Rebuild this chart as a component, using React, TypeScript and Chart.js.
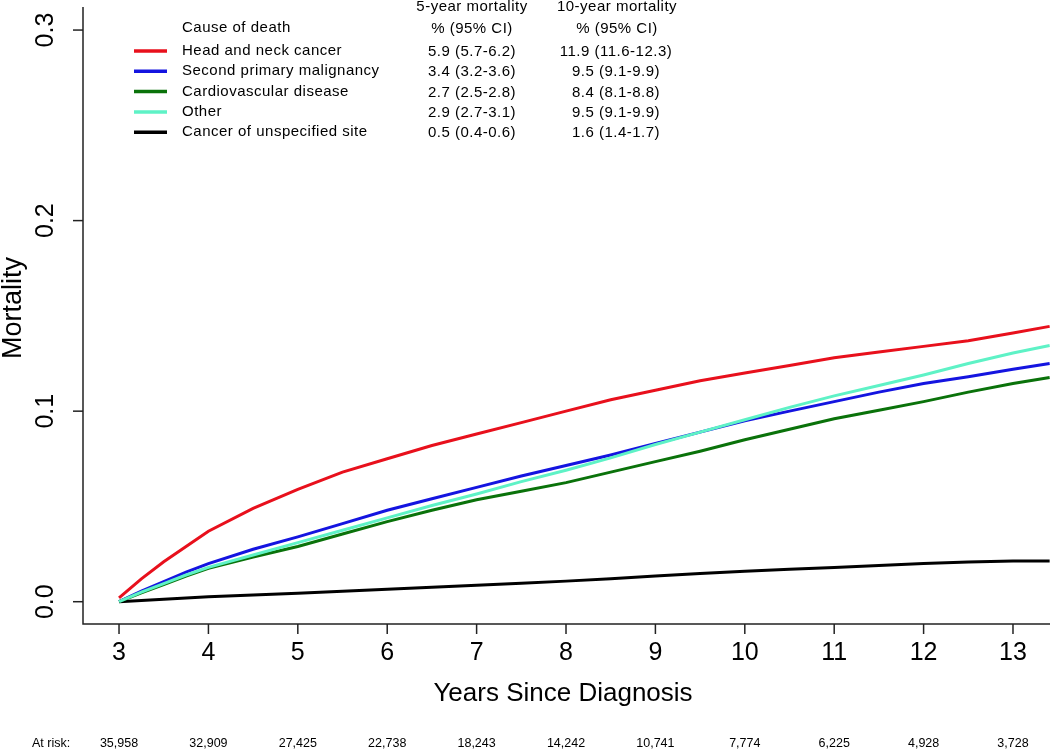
import React, { useEffect, useRef } from "react";
import { Chart, registerables } from "chart.js";

Chart.register(...registerables);

// ---- data ----
const years = [3, 3.25, 3.5, 3.75, 4, 4.5, 5, 5.5, 6, 6.5, 7, 7.5, 8, 8.5, 9, 9.5, 10, 10.5, 11, 11.5, 12, 12.5, 13, 13.41];
const headNeck = [0.002, 0.012, 0.021, 0.029, 0.037, 0.049, 0.059, 0.068, 0.075, 0.082, 0.088, 0.094, 0.1, 0.106, 0.111, 0.116, 0.12, 0.124, 0.128, 0.131, 0.134, 0.137, 0.141, 0.1445];
const secondPrimary = [0, 0.0055, 0.0105, 0.0155, 0.02, 0.0275, 0.034, 0.041, 0.048, 0.054, 0.06, 0.066, 0.0715, 0.077, 0.083, 0.089, 0.095, 0.1, 0.105, 0.11, 0.1145, 0.118, 0.122, 0.125];
const cardio = [0, 0.0047, 0.009, 0.0135, 0.0175, 0.0235, 0.029, 0.0355, 0.042, 0.048, 0.0535, 0.058, 0.0625, 0.068, 0.0735, 0.079, 0.085, 0.0905, 0.096, 0.1005, 0.105, 0.11, 0.1145, 0.1177];
const other = [0, 0.005, 0.0095, 0.014, 0.018, 0.0245, 0.031, 0.0375, 0.044, 0.0505, 0.0565, 0.063, 0.069, 0.0755, 0.0825, 0.089, 0.0955, 0.102, 0.108, 0.1135, 0.119, 0.125, 0.1305, 0.1345];
const unspecified = [0, 0.0006, 0.0013, 0.002, 0.0026, 0.0035, 0.0045, 0.0055, 0.0066, 0.0076, 0.0086, 0.0097, 0.0108, 0.012, 0.0135, 0.0148, 0.016, 0.017, 0.018, 0.019, 0.02, 0.0208, 0.0213, 0.0214];

const causes = ["Head and neck cancer", "Second primary malignancy", "Cardiovascular disease", "Other", "Cancer of unspecified site"];
const colors = ["#e8101c", "#1414e0", "#0a720a", "#5ef2c6", "#000000"];
const fiveYear = ["5.9 (5.7-6.2)", "3.4 (3.2-3.6)", "2.7 (2.5-2.8)", "2.9 (2.7-3.1)", "0.5 (0.4-0.6)"];
const tenYear = ["11.9 (11.6-12.3)", "9.5 (9.1-9.9)", "8.4 (8.1-8.8)", "9.5 (9.1-9.9)", "1.6 (1.4-1.7)"];

const xTicks = [3, 4, 5, 6, 7, 8, 9, 10, 11, 12, 13];
const yTicks = [0, 0.1, 0.2, 0.3];
const yTickLabels = ["0.0", "0.1", "0.2", "0.3"];
const atRisk = ["35,958", "32,909", "27,425", "22,738", "18,243", "14,242", "10,741", "7,774", "6,225", "4,928", "3,728"];

const seriesValues = [headNeck, secondPrimary, cardio, other, unspecified];
const drawOrder = [2, 3, 2, 1, 2];

const FONT = "'Liberation Sans', Arial, sans-serif";

const rPlugin = {
  id: "rStyle",
  afterDraw(chart: any) {
    const { ctx, chartArea, scales } = chart;
    const x = scales.x;
    const y = scales.y;
    const { left, right, top, bottom } = chartArea;
    ctx.save();
    ctx.fillStyle = "#000";
    ctx.strokeStyle = "#222";
    ctx.lineWidth = 1.5;
    // L-shaped box
    ctx.beginPath();
    ctx.moveTo(left, top);
    ctx.lineTo(left, bottom);
    ctx.lineTo(right, bottom);
    ctx.stroke();

    // x ticks + labels
    ctx.font = `25px ${FONT}`;
    ctx.textAlign = "center";
    ctx.textBaseline = "middle";
    xTicks.forEach((t) => {
      const px = x.getPixelForValue(t);
      ctx.beginPath();
      ctx.moveTo(px, bottom);
      ctx.lineTo(px, bottom + 10);
      ctx.stroke();
      ctx.fillText(String(t), px, 653);
    });

    // y ticks + rotated labels
    yTicks.forEach((v, i) => {
      const py = y.getPixelForValue(v);
      ctx.beginPath();
      ctx.moveTo(left, py);
      ctx.lineTo(left - 10, py);
      ctx.stroke();
      ctx.save();
      ctx.translate(46, py);
      ctx.rotate(-Math.PI / 2);
      ctx.fillText(yTickLabels[i], 0, 0);
      ctx.restore();
    });

    // axis titles
    ctx.font = `26px ${FONT}`;
    ctx.fillText("Years Since Diagnosis", 563, 694);
    ctx.save();
    ctx.translate(14, 308);
    ctx.rotate(-Math.PI / 2);
    ctx.font = `27px ${FONT}`;
    ctx.fillText("Mortality", 0, 0);
    ctx.restore();

    // at risk row
    ctx.font = `12.5px ${FONT}`;
    ctx.textAlign = "left";
    ctx.fillText("At risk:", 32, 744);
    ctx.textAlign = "center";
    xTicks.forEach((t, i) => {
      ctx.fillText(atRisk[i], x.getPixelForValue(t), 744);
    });

    // legend table
    (ctx as any).letterSpacing = "0.5px";
    ctx.font = `15px ${FONT}`;
    ctx.textAlign = "center";
    ctx.fillText("5-year mortality", 472, 7);
    ctx.fillText("% (95% CI)", 472, 29);
    ctx.fillText("10-year mortality", 617, 7);
    ctx.fillText("% (95% CI)", 617, 29);
    ctx.textAlign = "left";
    ctx.fillText("Cause of death", 182, 28);
    causes.forEach((c, i) => {
      const ry = 51 + i * 20.3;
      ctx.strokeStyle = colors[i];
      ctx.lineWidth = 3.5;
      ctx.beginPath();
      ctx.moveTo(134, ry);
      ctx.lineTo(167, ry);
      ctx.stroke();
      ctx.textAlign = "left";
      ctx.fillText(c, 182, ry);
      ctx.textAlign = "center";
      ctx.fillText(fiveYear[i], 472, ry + 1);
      ctx.fillText(tenYear[i], 616, ry + 1);
    });
    ctx.restore();
  },
};

export default function App() {
  const ref = useRef<HTMLCanvasElement | null>(null);
  useEffect(() => {
    if (!ref.current) return;
    const chart = new Chart(ref.current, {
      type: "line",
      data: {
        datasets: causes.map((c, i) => ({
          label: c,
          data: years.map((t, j) => ({ x: t, y: seriesValues[i][j] })),
          borderColor: colors[i],
          borderWidth: 3,
          pointRadius: 0,
          tension: 0,
          fill: false,
          order: drawOrder[i],
        })),
      },
      options: {
        animation: false,
        responsive: false,
        devicePixelRatio: 1,
        layout: { padding: { left: 83, right: 0, top: 7, bottom: 127 } },
        plugins: { legend: { display: false }, tooltip: { enabled: false } },
        scales: {
          x: { type: "linear", min: 2.597, max: 13.414, display: false },
          y: { type: "linear", min: -0.0117, max: 0.3121, display: false },
        },
      },
      plugins: [rPlugin],
    });
    return () => chart.destroy();
  }, []);
  return (
    <div style={{ position: "fixed", left: 0, top: 0, width: 1050, height: 751, background: "#fff" }}>
      <canvas ref={ref} width={1050} height={751} />
    </div>
  );
}
